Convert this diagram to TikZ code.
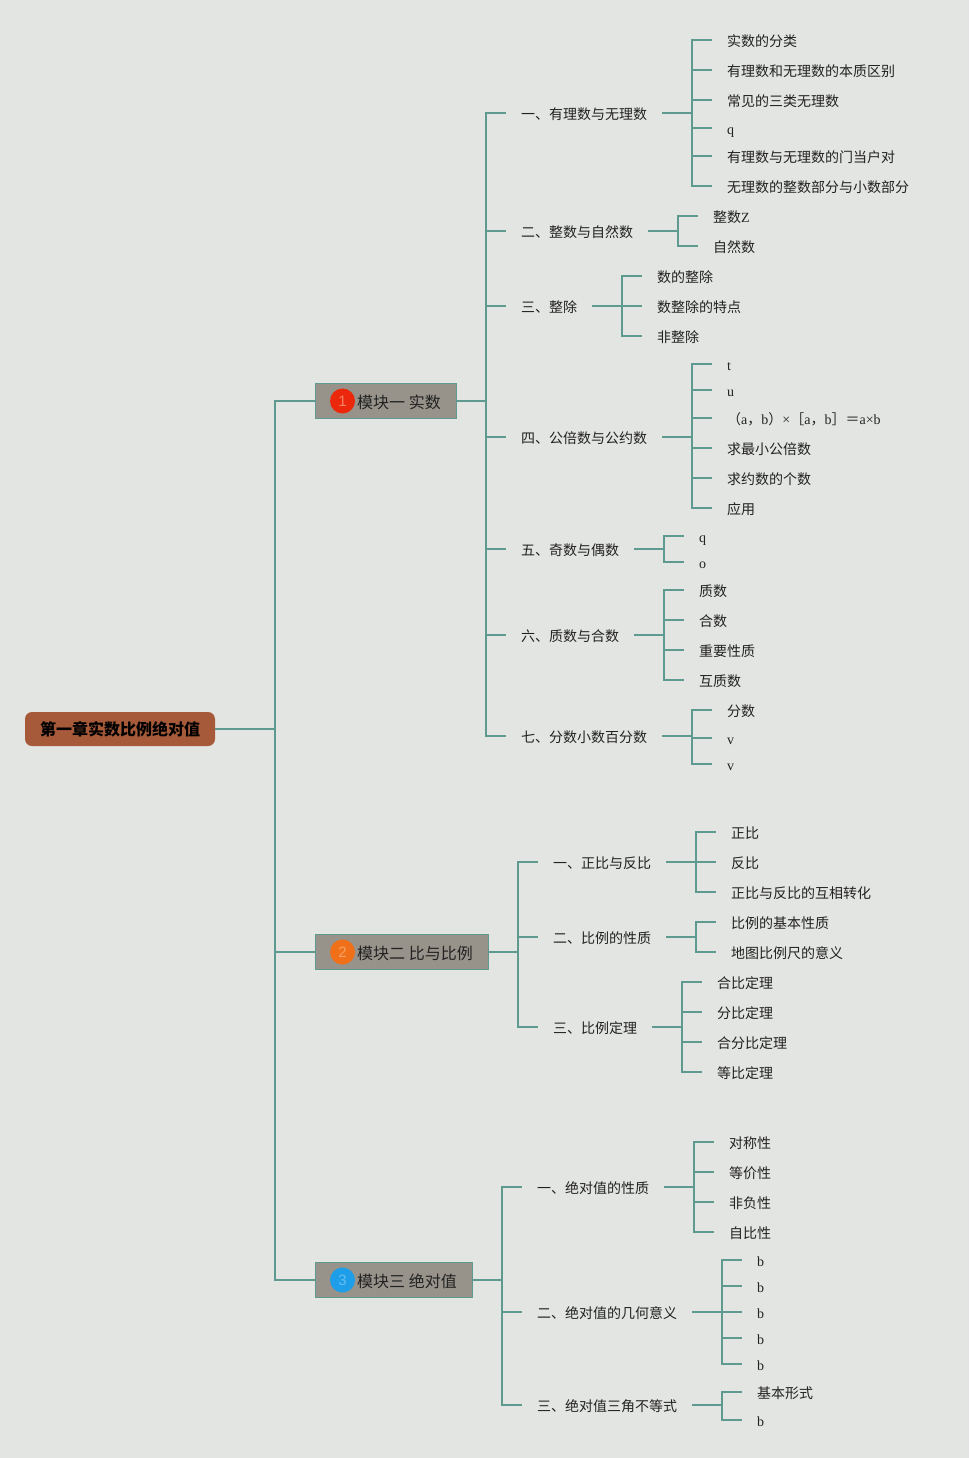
\documentclass[tikz,border=0pt]{standalone}
\usepackage{fontspec}
\setmainfont{Noto Sans CJK SC}
\newfontfamily\latn{Liberation Serif}
\newfontfamily\numf{Liberation Sans}
\definecolor{bgc}{HTML}{E3E5E2}
\definecolor{linkc}{HTML}{5F9A90}
\definecolor{rootc}{HTML}{A65A3A}
\definecolor{modc}{HTML}{97938A}
\definecolor{txtc}{HTML}{222222}
\tikzset{
  link/.style={draw=linkc,line width=2pt,line cap=butt,line join=miter},
  leaf/.style={anchor=west,inner xsep=15pt,inner ysep=0pt,text height=13.5pt,text depth=1pt,text=txtc,font=\fontsize{14}{16}\selectfont},
  sect/.style={leaf,text height=14pt,text depth=1pt},
  rootbox/.style={fill=rootc,rounded corners=7pt,minimum width=190pt,minimum height=34pt,inner sep=0pt,text=black,font=\fontsize{16}{18}\selectfont\bfseries},
  modbox/.style={fill=modc,draw=linkc,line width=1pt,anchor=west,minimum height=35pt,inner ysep=0pt,inner xsep=0pt,text=txtc,font=\fontsize{16}{18}\selectfont,align=left},
  badge/.style={circle,inner sep=0pt,minimum size=25pt,font=\numf\fontsize{15}{16}\selectfont},
  modtext/.style={anchor=west,inner sep=0pt,text=txtc,font=\fontsize{16}{18}\selectfont}
}
% \lf{name}{x}{y}{text}{parent}{spine coordinate}
\newcommand\lf[6]{\node[leaf] (#1) at (#2,#3) {#4};\draw[link] (#5.east) -- (#6) |- (#1.west);}
% \secn{name}{x}{y}{text}{module}{spine coordinate}{spine x}
\newcommand\secn[7]{\node[sect] (#1) at (#2,#3) {#4};\draw[link] (#5.east) -- (#6) |- (#1.west);\coordinate (#1s) at (#7,#3);}
\begin{document}
\begin{tikzpicture}[x=1pt,y=-1pt]
\useasboundingbox (0,0) rectangle (969,1458);
\fill[bgc] (0,0) rectangle (969,1458);
\node[rootbox] (root) at (120,729) {第一章实数比例绝对值};
\coordinate (sp0) at (275,729);
% modules
\node[modbox,minimum width=141pt] (m1) at (314.8,401) {};
\node[modbox,minimum width=173pt] (m2) at (314.8,952) {};
\node[modbox,minimum width=157pt] (m3) at (314.8,1280) {};
\draw[link] (root.east) -- (sp0) |- (m1.west);
\draw[link] (sp0) |- (m2.west);
\draw[link] (sp0) |- (m3.west);
\node[badge,fill={rgb,255:red,236;green,40;blue,12},text={rgb,255:red,250;green,130;blue,100}] (b1) at (342.5,401) {1};
\node[badge,fill={rgb,255:red,240;green,112;blue,26},text={rgb,255:red,248;green,160;blue,100}] (b2) at (342.5,952) {2};
\node[badge,fill={rgb,255:red,30;green,158;blue,232},text={rgb,255:red,100;green,190;blue,240}] (b3) at (342.5,1280) {3};
\node[modtext] (t1) at (357,402) {模块一 实数};
\node[modtext] (t2) at (357,953) {模块二 比与比例};
\node[modtext] (t3) at (357,1281) {模块三 绝对值};
\coordinate (sp1) at (486,401);
\coordinate (sp2) at (518,952);
\coordinate (sp3) at (502,1280);
% module 1 sections
\secn{a1}{506}{113}{一、有理数与无理数}{m1}{sp1}{692}
\secn{a2}{506}{231}{二、整数与自然数}{m1}{sp1}{678}
\secn{a3}{506}{306}{三、整除}{m1}{sp1}{622}
\secn{a4}{506}{437}{四、公倍数与公约数}{m1}{sp1}{692}
\secn{a5}{506}{549}{五、奇数与偶数}{m1}{sp1}{664}
\secn{a6}{506}{635}{六、质数与合数}{m1}{sp1}{664}
\secn{a7}{506}{736}{七、分数小数百分数}{m1}{sp1}{692}
\lf{a11}{712}{40}{实数的分类}{a1}{a1s}
\lf{a12}{712}{70}{有理数和无理数的本质区别}{a1}{a1s}
\lf{a13}{712}{100}{常见的三类无理数}{a1}{a1s}
\lf{a14}{712}{128}{\latn q}{a1}{a1s}
\lf{a15}{712}{156}{有理数与无理数的门当户对}{a1}{a1s}
\lf{a16}{712}{186}{无理数的整数部分与小数部分}{a1}{a1s}
\lf{a21}{698}{216}{整数{\latn Z}}{a2}{a2s}
\lf{a22}{698}{246}{自然数}{a2}{a2s}
\lf{a31}{642}{276}{数的整除}{a3}{a3s}
\lf{a32}{642}{306}{数整除的特点}{a3}{a3s}
\lf{a33}{642}{336}{非整除}{a3}{a3s}
\lf{a41}{712}{364}{\latn t}{a4}{a4s}
\lf{a42}{712}{390}{\latn u}{a4}{a4s}
\lf{a43}{712}{418}{（{\latn a}，{\latn b}）{\latn ×}［{\latn a}，{\latn b}］＝{\latn a×b}}{a4}{a4s}
\lf{a44}{712}{448}{求最小公倍数}{a4}{a4s}
\lf{a45}{712}{478}{求约数的个数}{a4}{a4s}
\lf{a46}{712}{508}{应用}{a4}{a4s}
\lf{a51}{684}{536}{\latn q}{a5}{a5s}
\lf{a52}{684}{562}{\latn o}{a5}{a5s}
\lf{a61}{684}{590}{质数}{a6}{a6s}
\lf{a62}{684}{620}{合数}{a6}{a6s}
\lf{a63}{684}{650}{重要性质}{a6}{a6s}
\lf{a64}{684}{680}{互质数}{a6}{a6s}
\lf{a71}{712}{710}{分数}{a7}{a7s}
\lf{a72}{712}{738}{\latn v}{a7}{a7s}
\lf{a73}{712}{764}{\latn v}{a7}{a7s}
% module 2
\secn{b1s0}{538}{862}{一、正比与反比}{m2}{sp2}{696}
\secn{b2s0}{538}{937}{二、比例的性质}{m2}{sp2}{696}
\secn{b3s0}{538}{1027}{三、比例定理}{m2}{sp2}{682}
\lf{b11}{716}{832}{正比}{b1s0}{b1s0s}
\lf{b12}{716}{862}{反比}{b1s0}{b1s0s}
\lf{b13}{716}{892}{正比与反比的互相转化}{b1s0}{b1s0s}
\lf{b21}{716}{922}{比例的基本性质}{b2s0}{b2s0s}
\lf{b22}{716}{952}{地图比例尺的意义}{b2s0}{b2s0s}
\lf{b31}{702}{982}{合比定理}{b3s0}{b3s0s}
\lf{b32}{702}{1012}{分比定理}{b3s0}{b3s0s}
\lf{b33}{702}{1042}{合分比定理}{b3s0}{b3s0s}
\lf{b34}{702}{1072}{等比定理}{b3s0}{b3s0s}
% module 3
\secn{c1s0}{522}{1187}{一、绝对值的性质}{m3}{sp3}{694}
\secn{c2s0}{522}{1312}{二、绝对值的几何意义}{m3}{sp3}{722}
\secn{c3s0}{522}{1405}{三、绝对值三角不等式}{m3}{sp3}{722}
\lf{c11}{714}{1142}{对称性}{c1s0}{c1s0s}
\lf{c12}{714}{1172}{等价性}{c1s0}{c1s0s}
\lf{c13}{714}{1202}{非负性}{c1s0}{c1s0s}
\lf{c14}{714}{1232}{自比性}{c1s0}{c1s0s}
\lf{c21}{742}{1260}{\latn b}{c2s0}{c2s0s}
\lf{c22}{742}{1286}{\latn b}{c2s0}{c2s0s}
\lf{c23}{742}{1312}{\latn b}{c2s0}{c2s0s}
\lf{c24}{742}{1338}{\latn b}{c2s0}{c2s0s}
\lf{c25}{742}{1364}{\latn b}{c2s0}{c2s0s}
\lf{c31}{742}{1392}{基本形式}{c3s0}{c3s0s}
\lf{c32}{742}{1420}{\latn b}{c3s0}{c3s0s}
\end{tikzpicture}
\end{document}
